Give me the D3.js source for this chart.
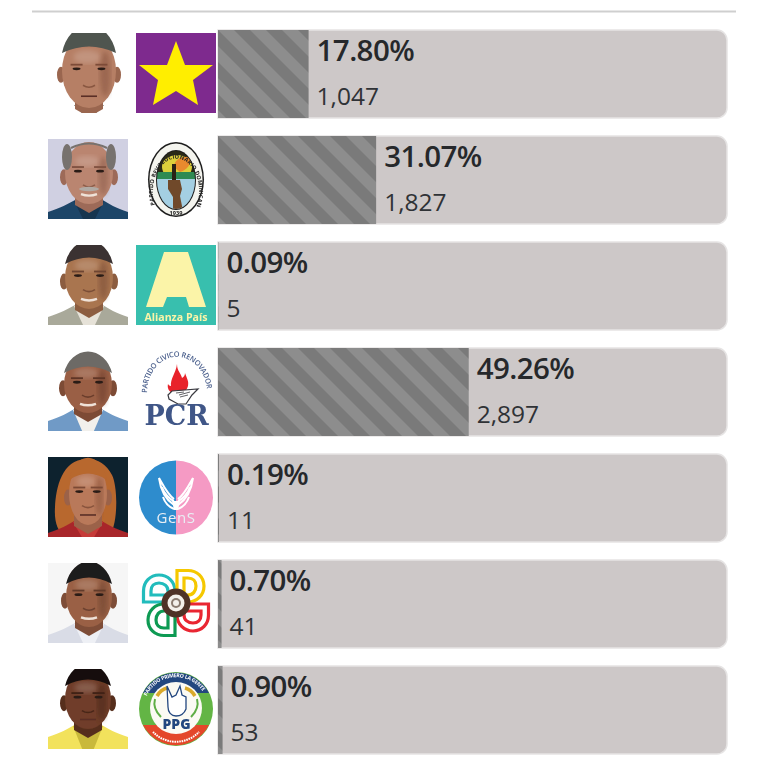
<!DOCTYPE html>
<html lang="es">
<head>
<meta charset="UTF-8">
<title>Resultados</title>
<script src="https://d3js.org/d3.v7.min.js"></script>
<style>
    html, body { margin: 0; padding: 0; background: #fff; }
    svg { display: block; }
    text { font-family: "Open Sans", "Noto Sans", sans-serif; }
</style>
</head>
<body>
<svg id="chart" width="768" height="771"></svg>
<script>
const percents = [17.80, 31.07, 0.09, 49.26, 0.19, 0.70, 0.90];
const votes = [1047, 1827, 5, 2897, 11, 41, 53];
const logos = ["star", "prd", "alianza", "pcr", "gens", "flower", "ppg"];

// one look per candidate photo
const portraits = [
    { bg: "#ffffff", skin: "#b67f65", dark: "#7d4c38", hair: "#4f544f", shirt: "#ffffff", collar: "#4a4a48", cx: 41, rx: 27, top: 1, chin: 75, hairline: 13, smile: false },
    { bg: "#d0d0e2", skin: "#ba8570", dark: "#7f5140", hair: "#77726e", shirt: "#1f4468", collar: "#17344f", cx: 41, rx: 24, top: 3, chin: 65, bald: true, smile: true, moustache: "#b0aaa4" },
    { bg: "#ffffff", skin: "#a9744f", dark: "#6e4530", hair: "#3a3230", shirt: "#a9a99a", collar: "#e6e2d8", cx: 41, rx: 24, top: 1, chin: 64, hairline: 12, smile: true },
    { bg: "#ffffff", skin: "#9a5f45", dark: "#5f3626", hair: "#6d6a66", shirt: "#6f9ac6", collar: "#f2f0ec", cx: 40, rx: 24, top: 4, chin: 62, hairline: 12, smile: true },
    { bg: "#10202f", skin: "#b9795a", dark: "#7c4a35", hair: "#b8672e", shirt: "#a8262a", collar: "#c63a38", cx: 40, rx: 19, top: 5, chin: 68, hairline: 12, long: true, smile: false },
    { bg: "#f6f6f6", skin: "#9a6145", dark: "#623a2a", hair: "#1f1a1a", shirt: "#d9dce6", collar: "#eef0f5", cx: 41, rx: 23, top: 3, chin: 64, hairline: 12, smile: true },
    { bg: "#ffffff", skin: "#6f3d29", dark: "#3f2015", hair: "#17100e", shirt: "#f2e25c", collar: "#c9b93a", cx: 40, rx: 23, top: 0, chin: 60, hairline: 11, smile: false }
];

const svg = d3.select("#chart");
const rowTop = 30, rowStep = 106, barHeight = 88;
const x = d3.scaleLinear().domain([0, 100]).range([218, 727]);
const y = d3.scaleOrdinal().domain(d3.range(percents.length)).range(d3.range(percents.length).map(i => rowTop + i * rowStep));

const defs = svg.append("defs");
defs.append("filter").attr("id", "soft").append("feGaussianBlur").attr("stdDeviation", 0.7);
defs.append("filter").attr("id", "softer").append("feGaussianBlur").attr("stdDeviation", 2.5);
defs.append("filter").attr("id", "tiny").append("feGaussianBlur").attr("stdDeviation", 0.35);
const stripes = defs.append("pattern").attr("id", "stripes")
    .attr("patternUnits", "userSpaceOnUse").attr("width", 32).attr("height", 32);
stripes.append("rect").attr("width", 32).attr("height", 32).attr("fill", "#8d8d8d");
stripes.append("path").attr("fill", "#7a7a7a").attr("d", "M0 0L32 32H16L0 16Z M16 0H32V16Z");

percents.forEach((p, i) => {
    defs.append("clipPath").attr("id", "photo" + i).append("rect").attr("width", 80).attr("height", 80);
});

function drawPortrait(g, c) {
    const eyeY = c.top + (c.chin - c.top) * 0.47;
    const cy = (c.top + c.chin) / 2, ry = (c.chin - c.top) / 2;
    const neck = d3.interpolateRgb(c.skin, c.dark)(0.5);
    g.append("rect").attr("width", 80).attr("height", 80).attr("fill", c.bg);
    if (c.long) {
        g.append("path").attr("fill", c.hair)
            .attr("d", `M${c.cx - 2} 2C${c.cx - 26} 3 ${c.cx - 32} 30 ${c.cx - 33} 50C${c.cx - 34} 66 ${c.cx - 30} 74 ${c.cx - 24} 78H${c.cx + 22}C${c.cx + 30} 66 ${c.cx + 30} 30 ${c.cx + 24} 18C${c.cx + 18} 6 ${c.cx + 8} 1 ${c.cx - 2} 2Z`);
    }
    // shoulders
    g.append("path").attr("fill", c.shirt)
        .attr("d", `M0 82V${c.chin + 8}C12 ${c.chin + 4} 20 ${c.chin} ${c.cx - 12} ${c.chin - 5}H${c.cx + 12}C${c.cx + 20} ${c.chin} 68 ${c.chin + 4} 80 ${c.chin + 8}V82Z`);
    g.append("path").attr("fill", c.collar)
        .attr("d", `M${c.cx - 15} ${c.chin - 3}L${c.cx - 5} 82H${c.cx + 5}L${c.cx + 15} ${c.chin - 3}Z`);
    // neck
    g.append("path").attr("fill", neck)
        .attr("d", `M${c.cx - 14} ${c.chin - 14}V${c.chin + 1}L${c.cx} ${c.chin + 9}L${c.cx + 14} ${c.chin + 1}V${c.chin - 14}Z`);
    // ears
    g.selectAll("ellipse.ear").data([-1, 1]).join("ellipse").attr("class", "ear")
        .attr("cx", s => c.cx + s * (c.rx + 1)).attr("cy", eyeY + 6)
        .attr("rx", 4).attr("ry", 8).attr("fill", neck);
    // head, darker on the right, lighter on the forehead
    g.append("ellipse").attr("cx", c.cx).attr("cy", cy)
        .attr("rx", c.rx).attr("ry", ry).attr("fill", c.skin);
    g.append("ellipse").attr("cx", c.cx + c.rx * 0.6).attr("cy", cy + 3)
        .attr("rx", c.rx * 0.2).attr("ry", ry * 0.62).attr("fill", c.dark).attr("opacity", 0.45)
        .attr("filter", "url(#softer)");
    g.append("ellipse").attr("cx", c.cx - 2).attr("cy", c.top + ry * 0.62)
        .attr("rx", c.rx * 0.5).attr("ry", ry * 0.18).attr("fill", "#ffffff").attr("opacity", 0.16)
        .attr("filter", "url(#softer)");
    // hair
    if (c.bald) {
        g.selectAll("ellipse.side").data([-1, 1]).join("ellipse").attr("class", "side")
            .attr("cx", s => c.cx + s * (c.rx - 2)).attr("cy", c.top + 15)
            .attr("rx", 5).attr("ry", 13).attr("fill", c.hair);
        g.append("path").attr("fill", "none").attr("stroke", c.hair).attr("stroke-width", 2)
            .attr("d", `M${c.cx - 18} ${c.top + 6}Q${c.cx} ${c.top - 3} ${c.cx + 18} ${c.top + 6}`);
    } else {
        const hy = c.top + c.hairline + 6;
        g.append("path").attr("fill", c.hair)
            .attr("d", `M${c.cx - c.rx} ${hy}A${c.rx + 1} ${ry + 1} 0 0 1 ${c.cx + c.rx} ${hy}Q${c.cx} ${c.top + c.hairline - 7} ${c.cx - c.rx} ${hy}Z`);
    }
    // brows, eyes, nose, mouth
    g.selectAll("rect.brow").data([-1, 1]).join("rect").attr("class", "brow")
        .attr("x", s => c.cx + s * c.rx * 0.46 - 6).attr("y", eyeY - 5)
        .attr("width", 12).attr("height", 1.8).attr("fill", c.dark);
    g.selectAll("ellipse.eye").data([-1, 1]).join("ellipse").attr("class", "eye")
        .attr("cx", s => c.cx + s * c.rx * 0.46).attr("cy", eyeY)
        .attr("rx", 4).attr("ry", 1.4).attr("fill", "#2c1d18");
    const nose = eyeY + (c.chin - eyeY) * 0.42, lip = eyeY + (c.chin - eyeY) * 0.7;
    g.append("path").attr("fill", "none").attr("stroke", c.dark).attr("stroke-width", 1.6).attr("opacity", 0.8)
        .attr("d", `M${c.cx - 6} ${nose}Q${c.cx} ${nose + 4} ${c.cx + 6} ${nose}`);
    if (c.moustache) {
        g.append("ellipse").attr("cx", c.cx).attr("cy", nose + 4)
            .attr("rx", 10).attr("ry", 2.2).attr("fill", c.moustache);
    }
    g.append("path").attr("fill", "none").attr("stroke-width", c.smile ? 2.4 : 1.6)
        .attr("stroke", c.smile ? "#efe2d8" : "#5a2f26")
        .attr("d", `M${c.cx - 8} ${lip}Q${c.cx} ${lip + (c.smile ? 3 : 0)} ${c.cx + 8} ${lip}`);
}

const logoDrawers = {
    star(g) {
        g.append("rect").attr("width", 80).attr("height", 80).attr("fill", "#7e2a8e");
        g.append("polygon").attr("fill", "#ffee00")
            .attr("points", "40,8 49,32 77,32 57,47 62,72 40,58 17,72 22,47 3,32 31,32");
    },
    prd(g) {
        defs.append("clipPath").attr("id", "prdInner").append("ellipse")
            .attr("cx", 40).attr("cy", 41).attr("rx", 19).attr("ry", 29);
        defs.append("path").attr("id", "prdArc").attr("d", "M19 66A23 33 0 1 1 61 66");
        g.append("ellipse").attr("cx", 40).attr("cy", 40.5).attr("rx", 28).attr("ry", 37.5).attr("fill", "#1c1c1c");
        g.append("ellipse").attr("cx", 40).attr("cy", 40.5).attr("rx", 26.5).attr("ry", 36).attr("fill", "#f4f4ee");
        g.append("ellipse").attr("cx", 40).attr("cy", 41).attr("rx", 20).attr("ry", 30).attr("fill", "#1c1c1c");
        const inner = g.append("g").attr("clip-path", "url(#prdInner)");
        inner.append("rect").attr("x", 20).attr("y", 10).attr("width", 40).attr("height", 26).attr("fill", "#2b2a18");
        inner.append("ellipse").attr("cx", 41).attr("cy", 28).attr("rx", 15).attr("ry", 12).attr("fill", "#dccf3a").attr("filter", "url(#soft)");
        inner.append("rect").attr("x", 20).attr("y", 40).attr("width", 40).attr("height", 32).attr("fill", "#a4cfe2");
        inner.append("rect").attr("x", 20).attr("y", 33).attr("width", 40).attr("height", 7).attr("fill", "#2f8a52");
        inner.append("path").attr("fill", "#e98a2e").attr("d", "M38 28C38 20 46 17 56 18C56 24 50 32 44 33Z");
        inner.append("rect").attr("x", 36).attr("y", 25).attr("width", 4).attr("height", 17).attr("fill", "#2a2018");
        inner.append("path").attr("fill", "#6f4a2c").attr("d", "M32 41H44L46 50L44 57L47 72H37L37 58L32 50Z");
        g.append("text").attr("font-size", 5.6).attr("font-weight", 700).attr("fill", "#222")
            .append("textPath").attr("href", "#prdArc").attr("textLength", 122).text("PARTIDO REVOLUCIONARIO DOMINICANO");
        g.append("text").attr("x", 40).attr("y", 75.5).attr("text-anchor", "middle").attr("font-size", 5.6)
            .attr("font-weight", 700).attr("fill", "#222").text("1939");
    },
    alianza(g) {
        g.append("rect").attr("width", 80).attr("height", 80).attr("fill", "#37bfae");
        g.append("path").attr("fill", "#fbf4a8").attr("d", "M10 62L28 7H52L70 62H53L50 52H31L27 62Z");
        g.append("text").attr("x", 40).attr("y", 76).attr("text-anchor", "middle")
            .attr("font-size", 10.6).attr("font-weight", 700).attr("fill", "#fbf4a8").text("Alianza País");
    },
    pcr(g) {
        defs.append("path").attr("id", "pcrArc").attr("d", "M11 42A29 35 0 0 1 71 42");
        g.append("text").attr("font-size", 7.4).attr("font-weight", 600).attr("fill", "#4a5f8c")
            .append("textPath").attr("href", "#pcrArc").attr("textLength", 100).text("PARTIDO CIVICO RENOVADOR");
        g.append("path").attr("fill", "#e8212a").attr("d", "M41 13C41 20 45 22 46 27C48 26 49 24 49 22C51 28 53 30 52 35C51 39 48 41 46 42H37C33 41 31 37 32 33C33 35 35 35 35 35C34 28 40 22 41 13Z");
        g.append("path").attr("fill", "#ffffff").attr("stroke", "#3a3a40").attr("stroke-width", 1.2)
            .attr("d", "M32 44L36 40L62 38L56 44L50 53H42L33 48Z");
        g.append("path").attr("fill", "none").attr("stroke", "#3a3a40").attr("stroke-width", 0.8)
            .attr("d", "M40 42L48 41M43 44L54 41M44 46L52 44");
        g.append("text").attr("x", 40.5).attr("y", 74).attr("text-anchor", "middle")
            .attr("font-size", 27).attr("font-weight", 700)
            .attr("fill", "#3f5687").style("font-family", "'DejaVu Serif'").text("PCR");
    },
    gens(g) {
        g.append("path").attr("fill", "#2f8ccd").attr("d", "M40 3.5A37 37 0 0 0 40 77.5Z");
        g.append("path").attr("fill", "#f59ac4").attr("d", "M40 3.5A37 37 0 0 1 40 77.5Z");
        const feathers = [
            "M38 48C32 44 25 36 23 21C28 30 32 38 38 42",
            "M38 44C33 42 28 36 26 30",
            "M38 52C33 50 29 46 27 40",
            "M42 48C48 44 55 36 57 21C52 30 48 38 42 42",
            "M42 44C47 42 52 36 54 30",
            "M42 52C47 50 51 46 53 40"
        ];
        g.selectAll("path.feather").data(feathers).join("path").attr("class", "feather")
            .attr("d", d => d).attr("fill", "none").attr("stroke", "#fff").attr("stroke-width", 2);
        g.append("path").attr("fill", "#fff").attr("d", "M36 44H44L42 53H38Z");
        g.append("text").attr("x", 40).attr("y", 66).attr("text-anchor", "middle")
            .attr("font-size", 15).attr("letter-spacing", 0.5).attr("fill", "#e8eef4").text("GenS");
    },
    flower(g) {
        const petals = [
            { color: "#21bcbc", angle: 0 },
            { color: "#f5c800", angle: 90 },
            { color: "#e92530", angle: 180 },
            { color: "#0f9a52", angle: 270 }
        ];
        petals.forEach(p => {
            const petal = g.append("g").attr("transform", `translate(40,40) rotate(${p.angle})`)
                .attr("fill", "none").attr("stroke", p.color).attr("stroke-width", 3.2);
            petal.append("path").attr("d", "M-32.5 -1V-12C-32.5 -21 -26 -28 -17 -28C-8 -28 -1 -21 -1 -12V-1Z");
            petal.append("path").attr("d", "M-25 -8V-12C-25 -17 -22 -20 -17 -20C-12 -20 -8 -17 -8 -12V-8Z");
        });
        g.append("circle").attr("cx", 40).attr("cy", 40).attr("r", 14.5).attr("fill", "#4f3226");
        g.append("circle").attr("cx", 40).attr("cy", 40).attr("r", 8.5).attr("fill", "#f4f0ea");
        g.append("circle").attr("cx", 40).attr("cy", 40).attr("r", 5).attr("fill", "#8b7b70");
        g.append("circle").attr("cx", 40).attr("cy", 40).attr("r", 3).attr("fill", "#f4f0ea");
    },
    ppg(g) {
        g.append("circle").attr("cx", 40).attr("cy", 40).attr("r", 37).attr("fill", "#64b545");
        g.append("path").attr("fill", "#23477f").attr("d", "M7 24A37 37 0 0 1 73 24Z");
        g.append("path").attr("fill", "#e4472a").attr("d", "M7 56A37 37 0 0 0 73 56Z");
        g.append("circle").attr("cx", 40).attr("cy", 39).attr("r", 26).attr("fill", "#fbfaf3");
        g.append("path").attr("fill", "none").attr("stroke", "#d9a92c").attr("stroke-width", 3.5).attr("d", "M21 27C24 22 27 20 31 19M59 27C56 22 53 20 49 19");
        g.append("path").attr("fill", "none").attr("stroke", "#5fae45").attr("stroke-width", 2).attr("d", "M19 30C17 37 20 43 25 48M61 30C63 37 60 43 55 48");
        g.append("path").attr("fill", "#fff").attr("stroke", "#23477f").attr("stroke-width", 1.3)
            .attr("d", "M31 17L36 28L40 26L44 17L46 26L50 28L50 40C48 45 44 47 40 47C35 47 32 43 32 38Z");
        g.append("text").attr("x", 40.5).attr("y", 60).attr("text-anchor", "middle")
            .attr("font-size", 14).attr("font-weight", 800).attr("fill", "#23477f").text("PPG");
        defs.append("path").attr("id", "ppgArc").attr("d", "M10 29A32 32 0 0 1 70 29");
        g.append("text").attr("font-size", 5.2).attr("font-weight", 700).attr("fill", "#fff")
            .append("textPath").attr("href", "#ppgArc").attr("startOffset", 2).attr("textLength", 68).text("PARTIDO PRIMERO LA GENTE");
        // the motto in the red band cannot be read in the picture, so it stays a dotted arc
        g.append("path").attr("fill", "none").attr("stroke", "#fff").attr("stroke-width", 2)
            .attr("stroke-dasharray", "1.6 0.8").attr("d", "M17 63A32 32 0 0 0 63 63");
    }
};

// top rule
svg.append("line").attr("x1", 32).attr("x2", 736).attr("y1", 11.5).attr("y2", 11.5)
    .attr("stroke", "#cfcfcf").attr("stroke-width", 2);

const rows = svg.selectAll("g.row").data(percents).join("g").attr("class", "row")
    .attr("transform", (d, i) => `translate(0,${y(i)})`);

// track: square on the left, rounded on the right
const r = 10, w = x(100) - x(0);
rows.append("path")
    .attr("d", `M${x(0)} 0H${x(0) + w - r}A${r} ${r} 0 0 1 ${x(0) + w} ${r}V${barHeight - r}A${r} ${r} 0 0 1 ${x(0) + w - r} ${barHeight}H${x(0)}Z`)
    .attr("fill", "#cdc8c8").attr("stroke", "#e6e4e4").attr("stroke-width", 1.5);

rows.append("g").attr("transform", `translate(${x(0)},0)`)
    .append("rect").attr("width", d => x(d) - x(0)).attr("height", barHeight)
    .attr("fill", "url(#stripes)");

rows.append("text").attr("x", d => x(d) + 8).attr("y", 31)
    .attr("font-size", 29.5).attr("font-weight", 600).attr("letter-spacing", -0.6).attr("fill", "#26282b")
    .text(d => d.toFixed(2) + "%");

rows.append("text").attr("x", d => x(d) + 8).attr("y", 75)
    .data(votes)
    .attr("font-size", 24.5).attr("fill", "#2f3236")
    .text(d3.format(","));

rows.each(function (d, i) {
    const row = d3.select(this);
    const photo = row.append("g").attr("transform", "translate(48,3)")
        .attr("clip-path", `url(#photo${i})`);
    drawPortrait(photo.append("g").attr("filter", "url(#soft)"), portraits[i]);
    const logo = row.append("g").attr("transform", "translate(136,3)").attr("filter", "url(#tiny)");
    logoDrawers[logos[i]](logo);
});
</script>
</body>
</html>
